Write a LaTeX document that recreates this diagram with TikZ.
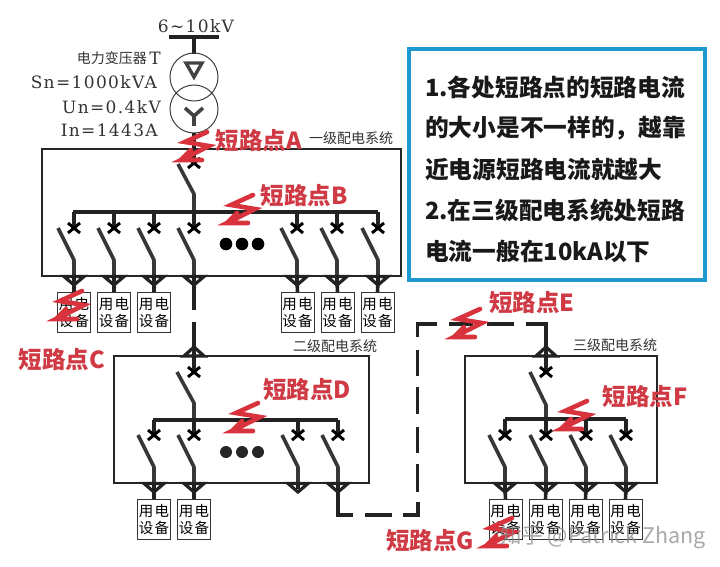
\documentclass[tikz,border=0pt]{standalone}
\usepackage{fontspec}
\setmainfont{DejaVu Serif}
\newfontfamily\cjk{Noto Sans CJK SC}
\newfontfamily\ser[LetterSpace=8]{DejaVu Serif}
\definecolor{wirec}{HTML}{222222}
\definecolor{zapred}{HTML}{D8323C}
\definecolor{labred}{HTML}{CF3A44}
\definecolor{bluec}{HTML}{1F9AD0}
\tikzset{
 wire/.style={draw=wirec,line width=3.6pt,line cap=butt,line join=miter},
 thinbox/.style={draw=black!85,line width=1.1pt,fill=white},
 bladeline/.style={draw=wirec!90,line width=3.6pt,line join=round},
 xmk/.style={draw=black,line width=3pt},
 trimark/.style={draw=wirec,line width=3.2pt,fill=white,line join=miter},
 devbox/.style={draw=black!80,line width=.9pt,fill=white,minimum width=33pt,minimum height=40pt,inner sep=0pt,align=center,font=\cjk\fontsize{14.5}{17}\selectfont},
 redlab/.style={text=labred,inner sep=0pt,font=\cjk\bfseries\fontsize{23.5}{24}\selectfont},
 syslab/.style={text=black!80,inner sep=0pt,font=\cjk\fontsize{14}{14}\selectfont},
 tlab/.style={text=black!80,inner sep=0pt,anchor=east,font=\ser\fontsize{17}{17}\selectfont},
 notelab/.style={text=black!90,inner sep=0pt,anchor=west,font=\cjk\bfseries\fontsize{23.7}{24}\selectfont},
 zapline/.style={draw=zapred,line width=4.6pt,line join=miter,line cap=round},
}
\newcommand\xmark[2]{\draw[xmk] (#1-6,#2-5)--(#1+6,#2+5) (#1+6,#2-5)--(#1-6,#2+5);}
% name, x, bus y, x-mark y, frame bottom y
\newcommand\feeder[5]{%
 \coordinate (#1-top) at (#2,#3);
 \coordinate (#1-x) at (#2,#4);
 \coordinate (#1-free) at (#2-16,#4);
 \coordinate (#1-hinge) at (#2,#4+32);
 \coordinate (#1-out) at (#2,#5);
 \draw[wire] (#1-top)--(#1-x);
 \xmark{#2}{#4}
 \draw[bladeline] (#1-free)--(#1-hinge)--(#1-out);
 \draw[trimark] (#2-10,#5+.5)--(#2+10,#5+.5)--(#2,#5+9)--cycle;
 \draw[wire] (#1-out)--(#2,#5+6);
}
\newcommand\device[3]{%
 \node[devbox] (#1) at (#2,#3) {用\hspace{1.5pt}电\\设\hspace{1.5pt}备};
}
\newcommand\zap[2]{%
 \draw[zapline,shift={(#1,#2)}] (0,0)--(-22,10)--(2,14)--(-26,28)--(-5,28) (-26,28)--(-16,18);
}
\begin{document}
\begin{tikzpicture}[x=1pt,y=-1pt]
\useasboundingbox (0,0) rectangle (720,567);
\fill[white] (0,0) rectangle (720,567);
% supply and transformer
\node[inner sep=0pt,text=black!80,font=\ser\fontsize{17}{17}\selectfont] (hv) at (196,26) {6∼10kV};
\coordinate (hvL) at (169,37);
\coordinate (hvR) at (219,37);
\draw[wire] (hvL)--(hvR);
\coordinate (hvD) at (194,37);
\coordinate (primT) at (194,54);
\draw[wire] (hvD)--(primT);
\draw[black!75,line width=1pt] (194,77) circle (24);
\draw[black!75,line width=1pt] (194,109) circle (24);
\draw[wirec!85,line width=3.4pt,line join=miter] (186,63)--(202,63)--(194,77)--cycle;
\draw[wirec!85,line width=3.6pt] (185,108)--(194,116)--(203,108) (194,116)--(194,126);
\node[tlab,font=\cjk\fontsize{14}{14}\selectfont] (t0) at (147,58) {电力变压器};
\node[tlab] (t0b) at (161,58) {T};
\node[tlab] (t1) at (157,82) {Sn=1000kVA};
\node[tlab] (t2) at (161,107) {Un=0.4kV};
\node[tlab] (t3) at (158,130) {In=1443A};
% frames
\node[thinbox,minimum width=359pt,minimum height=127pt,inner sep=0pt] (sys1) at (221.5,212.5) {};
\node[thinbox,minimum width=255pt,minimum height=127pt,inner sep=0pt] (sys2) at (241.5,419.5) {};
\node[thinbox,minimum width=192pt,minimum height=127pt,inner sep=0pt] (sys3) at (561,419.5) {};
\node[syslab] (s1) at (351,138) {一级配电系统};
\node[syslab] (s2) at (335,346) {二级配电系统};
\node[syslab] (s3) at (615,345) {三级配电系统};
% system 1
\coordinate (mainin) at (194,133);
\coordinate (mainx) at (194,163);
\draw[wire] (mainin)--(mainx);
\xmark{194}{163}
\coordinate (mainfree) at (178,164);
\coordinate (mainhinge) at (194,194);
\coordinate (bus1c) at (194,212);
\draw[bladeline] (mainfree)--(mainhinge)--(bus1c);
\coordinate (bus1L) at (73,212);
\coordinate (bus1R) at (378,212);
\draw[wire] (bus1L)--(bus1R);
\foreach \n/\x in {a/74,b/114,c/154,d/194,e/297,f/337,g/378}{\feeder{\n}{\x}{212}{228}{276}}
\foreach \n/\x in {a/74,b/114,c/154,e/297.5,f/337.5,g/377.5}{\device{dev\n}{\x}{312.5}}
\foreach \n/\x in {a/74,b/114,c/154,e/297,f/337,g/378}{\draw[wire] (\x,281)--(dev\n.north);}
\foreach \x in {226,242,258}{\fill[black] (\x,244) circle (6.3);}
% link 1 to 2
\coordinate (l1a) at (194,282);
\coordinate (l1b) at (194,310);
\coordinate (l1c) at (194,322);
\coordinate (l1d) at (194,356);
\draw[wire] (l1a)--(l1b);
\draw[wire] (l1c)--(l1d);
\draw[trimark] (184,356)--(204,356)--(194,347)--cycle;
% system 2
\coordinate (in2) at (194,349);
\coordinate (x2) at (194,372);
\draw[wire] (in2)--(x2);
\xmark{194}{372}
\coordinate (free2) at (177,372);
\coordinate (hinge2) at (194,403);
\coordinate (bus2c) at (194,420);
\draw[bladeline] (free2)--(hinge2)--(bus2c);
\coordinate (bus2L) at (153,420);
\coordinate (bus2R) at (338,420);
\draw[wire] (bus2L)--(bus2R);
\foreach \n/\x in {h/154,i/194,j/298,k/338}{\feeder{\n}{\x}{420}{435}{483}}
\foreach \n/\x in {h/154,i/194}{\device{dev\n}{\x}{519.5}\draw[wire] (\x,488)--(dev\n.north);}
\foreach \x in {226,242,258}{\fill[black!85] (\x,452) circle (6);}
% dashed link 2 to 3
\coordinate (d1) at (338,488);
\coordinate (d2) at (338,515);
\coordinate (d3) at (353,515);
\draw[wire] (d1)--(d2)--(d3);
\coordinate (d4) at (365,515);
\coordinate (d5) at (392,515);
\draw[wire] (d4)--(d5);
\coordinate (d6) at (403,515);
\coordinate (d7) at (418,515);
\coordinate (d8) at (418,502);
\draw[wire] (d6)--(d7)--(d8);
\foreach \a/\b in {464/492,427/453,387/414,350/376}{\draw[wire] (417.5,\a)--(417.5,\b);}
\coordinate (d9) at (417.5,337);
\coordinate (d10) at (417.5,324);
\coordinate (d11) at (437,324);
\draw[wire] (d9)--(d10)--(d11);
\foreach \a/\b in {449/473,487/514}{\draw[wire] (\a,324)--(\b,324);}
\coordinate (d12) at (526,324);
\coordinate (d13) at (546,324);
\coordinate (d14) at (546,349);
\draw[wire] (d12)--(d13)--(d14);
\draw[trimark] (536,356)--(556,356)--(546,347)--cycle;
% system 3
\coordinate (x3) at (546,372);
\draw[wire] (d14)--(x3);
\xmark{546}{372}
\coordinate (free3) at (530,372);
\coordinate (hinge3) at (546,405);
\coordinate (bus3c) at (546,419);
\draw[bladeline] (free3)--(hinge3)--(bus3c);
\coordinate (bus3L) at (505,419);
\coordinate (bus3R) at (626,419);
\draw[wire] (bus3L)--(bus3R);
\foreach \n/\x in {m/505,n/546,o/586,p/626}{\feeder{\n}{\x}{419}{435}{483}}
\foreach \n/\x in {m/505.5,n/545.5,o/585.5,p/625.5}{\device{dev\n}{\x}{519.5}}
\foreach \n/\x in {m/505,n/546,o/586,p/626}{\draw[wire] (\x,488)--(dev\n.north);}
% note box
\node[draw=bluec,line width=4pt,fill=white,minimum width=296pt,minimum height=231pt,inner sep=0pt] (note) at (557,164.5) {};
\node[notelab] (n1) at (425,87) {1.各处短路点的短路电流};
\node[notelab] (n2) at (425,128) {的大小是不一样的，越靠};
\node[notelab] (n3) at (425,170) {近电源短路电流就越大};
\node[notelab] (n4) at (425,210) {2.在三级配电系统处短路};
\node[notelab] (n5) at (425,251) {电流一般在10kA以下};
% short-circuit points
\zap{207}{132}\zap{253}{195}\zap{82}{291}\zap{258}{403}\zap{480}{309}\zap{587}{401}\zap{512}{518}
% watermark
\node[inner sep=0pt,text=black!45,opacity=.75,font=\cjk\fontsize{21.5}{21.5}\selectfont] (wm) at (603,537) {知乎 @Patrick Zhang};
\node[redlab] (A) at (259,141) {短路点A};
\node[redlab] (B) at (304,196) {短路点B};
\node[redlab] (C) at (62,360) {短路点C};
\node[redlab] (D) at (307,390) {短路点D};
\node[redlab] (E) at (532,303) {短路点E};
\node[redlab] (F) at (645,397) {短路点F};
\node[redlab] (G) at (430,541) {短路点G};
\end{tikzpicture}
\end{document}
